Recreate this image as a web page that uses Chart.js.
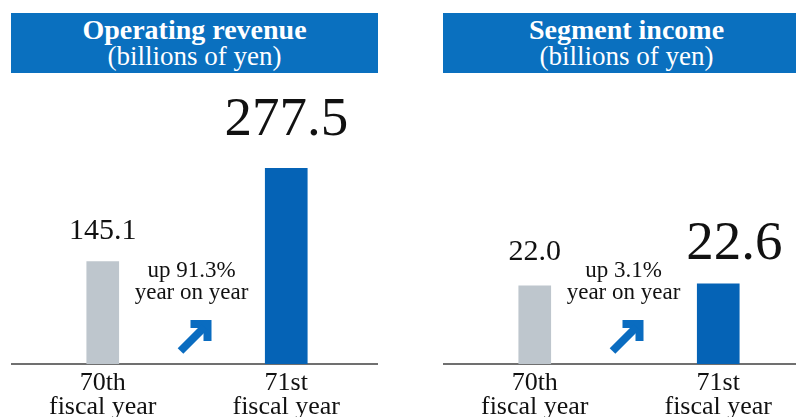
<!DOCTYPE html>
<html>
<head>
<meta charset="utf-8">
<script src="https://cdn.jsdelivr.net/npm/chart.js@4"></script>
<style>
  html, body { margin: 0; padding: 0; background: #fff; overflow: hidden; }
  #wrap { position: relative; width: 796px; height: 417px; overflow: hidden; }
  canvas { position: absolute; top: 0; }
  .head {
    position: absolute; top: 13px; height: 60px; width: 367px;
    background: #0A70BF; color: #fff; text-align: center;
    font-family: "Liberation Serif", "Times New Roman", serif;
    line-height: 26px; box-sizing: border-box; padding-top: 4px;
  }
  .head b { font-size: 28px; display: block; }
  .head span { font-size: 27px; display: block; }
</style>
</head>
<body>
<div id="wrap">
  <canvas id="revenueChart" width="367" height="417" style="left:11px"></canvas>
  <canvas id="incomeChart" width="367" height="417" style="left:443px"></canvas>
  <div class="head" style="left:11px"><b>Operating revenue</b><span>(billions of yen)</span></div>
  <div class="head" style="left:443px"><b>Segment income</b><span>(billions of yen)</span></div>
</div>
<script>
document.addEventListener("DOMContentLoaded", function () {

    // data
    const categories = [["70th", "fiscal year"], ["71st", "fiscal year"]];
    const revenue = [145.1, 277.5];
    const income = [22.0, 22.6];
    const revenueChange = ["up 91.3%", "year on year"];
    const incomeChange = ["up 3.1%", "year on year"];

    const serif = "'Liberation Serif', 'Times New Roman', serif";
    const grey = "#BEC6CD";
    const blue = "#0563B6";

    // value labels over bars, change note and arrow between them
    const barNotes = {
        id: "barNotes",
        afterDatasetsDraw(chart, args, opts) {
            let ctx = chart.ctx;
            ctx.save();
            ctx.fillStyle = "#111";
            ctx.textAlign = "center";
            ctx.textBaseline = "alphabetic";
            chart.data.datasets.forEach(function (ds, di) {
                let meta = chart.getDatasetMeta(di);
                meta.data.forEach(function (bar, i) {
                    if (ds.data[i] == null) return;
                    ctx.font = opts.sizes[i] + "px " + serif;
                    ctx.fillText(ds.data[i].toFixed(1), bar.x + opts.shifts[i], bar.y - opts.gaps[i]);
                });
            });

            let x = chart.scales.x;
            let mid = (x.getPixelForValue(0) + x.getPixelForValue(1)) / 2;
            let bottom = chart.chartArea.bottom;
            ctx.font = "23px " + serif;
            ctx.fillText(opts.change[0], mid - 3, bottom - 87);
            ctx.fillText(opts.change[1], mid - 3, bottom - 65);

            // arrow pointing up-right
            let ax = mid - 17, ay = bottom - 44;
            ctx.strokeStyle = "#0A6CC0";
            ctx.lineWidth = 8;
            ctx.lineCap = "butt";
            ctx.lineJoin = "miter";
            ctx.beginPath();
            ctx.moveTo(ax + 13, ay + 4);
            ctx.lineTo(ax + 30, ay + 4);
            ctx.lineTo(ax + 30, ay + 21);
            ctx.stroke();
            ctx.beginPath();
            ctx.moveTo(ax + 3, ay + 31);
            ctx.lineTo(ax + 27, ay + 7);
            ctx.stroke();
            ctx.restore();
        }
    };

    function makeChart(id, values, yMax, topPad, gaps, shifts, change) {
        let ctx = document.getElementById(id).getContext("2d");
        return new Chart(ctx, {
            type: "bar",
            data: {
                labels: categories,
                datasets: [
                    {
                        data: [values[0], null],
                        backgroundColor: grey,
                        barThickness: 32,
                        grouped: false
                    },
                    {
                        data: [null, values[1]],
                        backgroundColor: blue,
                        barThickness: 42,
                        grouped: false
                    }
                ]
            },
            options: {
                responsive: false,
                animation: false,
                devicePixelRatio: 1,
                layout: { padding: { top: topPad, left: 0, right: 0, bottom: 0 } },
                scales: {
                    y: { display: false, min: 0, max: yMax },
                    x: {
                        grid: { display: false, drawTicks: false },
                        border: { display: true, color: "#707070", width: 2 },
                        ticks: {
                            color: "#111",
                            padding: 7,
                            font: { family: serif, size: 26, lineHeight: 0.92 }
                        },
                        afterFit: function (scale) { scale.height = 53; }
                    }
                },
                plugins: {
                    legend: { display: false },
                    tooltip: { enabled: false },
                    barNotes: { sizes: [30, 55], gaps: gaps, shifts: shifts, change: change }
                }
            },
            plugins: [barNotes]
        });
    }

    makeChart("revenueChart", revenue, 400, 82, [23, 33], [0, 0], revenueChange);
    makeChart("incomeChart", income, 80, 80, [26, 25], [0, 16], incomeChange);
});
</script>
</body>
</html>
